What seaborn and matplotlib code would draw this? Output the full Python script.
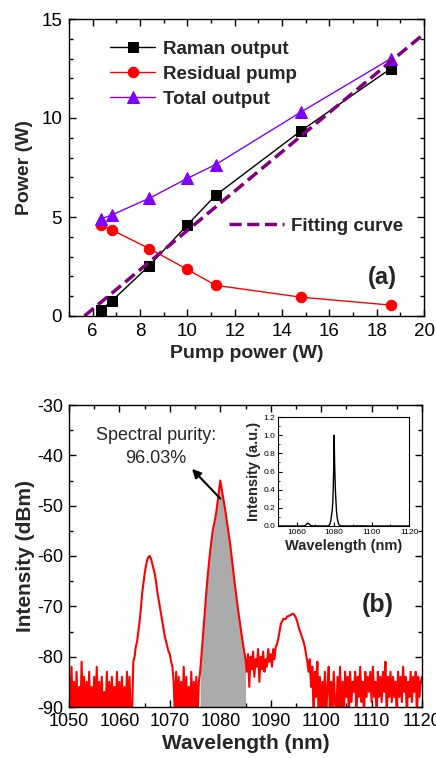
import numpy as np
import pandas as pd
import matplotlib
matplotlib.use("Agg")
import matplotlib.pyplot as plt
from matplotlib.ticker import MultipleLocator
import seaborn as sns

# ---------------- data: power scaling ----------------
pump_power = [6.35, 6.8, 8.4, 10.0, 11.2, 14.8, 18.6]
raman_output = [0.3, 0.75, 2.55, 4.6, 6.1, 9.35, 12.5]
residual_pump = [4.6, 4.35, 3.4, 2.35, 1.55, 0.95, 0.55]
total_output = [4.9, 5.1, 5.95, 6.95, 7.65, 10.3, 13.0]
fit_x = [5.65, 20.0]
fit_y = [0.0, 14.25]

# ---------------- data: output spectrum (0.25 nm steps, 1050-1120 nm) ----------------
wl_start, wl_step = 1050.0, 0.25
spectrum_dbm = [
    -84, -92, -82, -92, -85, -92, -83, -92, -86, -92, -81, -92, -84, -92, -85, -92, -83, -92, -86, -92,
    -84, -92, -82, -92, -85, -92, -84, -92, -87, -92, -83, -92, -85, -92, -84, -92, -86, -92, -83, -92,
    -85, -92, -84, -92, -86, -92, -83, -92, -84, -92, -92, -81, -80, -78, -77, -75, -73, -70.5, -67.5, -65.5,
    -63.5, -62, -60.8, -60.2, -60, -60.5, -61.5, -62.5, -63.5, -65, -67, -68.5, -70, -71.5, -73, -74.5, -76, -77, -78, -79,
    -79.5, -81, -82, -85, -92, -83, -92, -84, -92, -85, -92, -82, -92, -84, -92, -86, -92, -83, -92, -85,
    -92, -84, -92, -85, -83, -80, -76.7, -73.5, -70, -67, -64, -61.5, -59, -57, -55, -53.8, -52.5, -51, -49, -47,
    -45, -46.5, -48, -49.5, -51, -52.7, -54.5, -56.2, -58, -60.2, -62.5, -64.5, -66.5, -68.5, -70.5, -72.3, -74, -75.8, -77.5, -79,
    -80.5, -83, -79.5, -86, -80, -82.5, -79, -84, -80.5, -82, -78.5, -85, -80, -82.5, -79, -83, -80.5, -82, -78.5, -81,
    -79.5, -82, -78.5, -80.5, -78, -77.5, -76.5, -75, -73.5, -73, -72.5, -72.5, -72.5, -72, -72, -71.8, -71.7, -71.5, -71.5, -71.8,
    -72.3, -73, -74, -74.8, -75.5, -76.3, -77, -78, -79.5, -81, -83, -80.5, -86, -82, -92, -83, -88, -81, -92, -84,
    -92, -85, -90, -83, -92, -86, -82, -92, -85, -92, -83, -89, -92, -84, -92, -82, -92, -85, -92, -83,
    -88, -84, -92, -83, -89, -85, -87, -83, -92, -84, -88, -82, -89, -85, -92, -83, -88, -84, -87, -83,
    -89, -82, -88, -85, -92, -83, -88, -84, -89, -83, -87, -81, -92, -84, -88, -83, -89, -84, -88, -85,
    -92, -83, -88, -84, -89, -82, -87, -84, -92, -85, -88, -83, -89, -84, -87, -83, -92, -84, -88, -85,
    -84,
]
wavelength = wl_start + wl_step * np.arange(len(spectrum_dbm))
signal_band = (1076.0, 1085.0)
purity_text = "Spectral purity:\n96.03%"

spec = pd.DataFrame({"wl": wavelength, "dbm": spectrum_dbm})
# linear, peak-normalised view of the same trace for the inset
spec["lin"] = 10 ** ((spec["dbm"] - spec["dbm"].max()) / 10.0)

# ---------------- style ----------------
sns.set_theme(style="ticks")
plt.rcParams["font.family"] = ["Liberation Sans", "DejaVu Sans"]
plt.rcParams.update({
    "axes.unicode_minus": False,
    "axes.linewidth": 1.0,
    "axes.edgecolor": "black",
    "xtick.color": "black",
    "ytick.color": "black",
    "xtick.direction": "in",
    "ytick.direction": "in",
    "xtick.top": True,
    "ytick.right": True,
    "xtick.major.size": 5,
    "ytick.major.size": 5,
    "xtick.minor.size": 3,
    "ytick.minor.size": 3,
    "xtick.major.width": 1.0,
    "ytick.major.width": 1.0,
    "xtick.minor.width": 1.0,
    "ytick.minor.width": 1.0,
})

W, H = 436, 758
fig = plt.figure(figsize=(W / 100, H / 100), dpi=100)

def frac(left, top, right, bottom):
    return [left / W, 1 - bottom / H, (right - left) / W, (bottom - top) / H]

# ================= panel (a) =================
ax1 = fig.add_axes(frac(69, 19, 424, 316))
sns.lineplot(x=pump_power, y=raman_output, ax=ax1, color="black", lw=1.0,
             marker="s", markersize=7, markeredgecolor="black", label="Raman output")
sns.lineplot(x=pump_power, y=residual_pump, ax=ax1, color="#ff0000", lw=1.0,
             marker="o", markersize=7.5, markeredgecolor="#ff0000", label="Residual pump")
sns.lineplot(x=pump_power, y=total_output, ax=ax1, color="#8000ff", lw=1.0,
             marker="^", markersize=8, markeredgecolor="#8000ff", label="Total output")
sns.lineplot(x=fit_x, y=fit_y, ax=ax1, color="#800080", lw=2.5,
             linestyle=(0, (3.5, 1.6)), label="Fitting curve")

ax1.set_xlim(5, 20)
ax1.set_ylim(0, 15)
ax1.xaxis.set_major_locator(MultipleLocator(2))
ax1.xaxis.set_minor_locator(MultipleLocator(1))
ax1.yaxis.set_major_locator(MultipleLocator(5))
ax1.yaxis.set_minor_locator(MultipleLocator(1))
ax1.tick_params(axis="both", which="major", labelsize=13.5, pad=5)
ax1.set_xlabel("Pump power (W)", fontsize=14, fontweight="bold", labelpad=4)
ax1.set_ylabel("Power (W)", fontsize=14, fontweight="bold", labelpad=6)

handles, labels = ax1.get_legend_handles_labels()
leg1 = ax1.legend(handles[:3], labels[:3], loc="upper left", bbox_to_anchor=(0.095, 0.953),
                  frameon=False, handlelength=2.4, handletextpad=0.4, labelspacing=0.42,
                  prop={"weight": "bold", "size": 13.5}, borderaxespad=0)
ax1.add_artist(leg1)
ax1.legend([handles[3]], [labels[3]], loc="center left", bbox_to_anchor=(0.43, 0.303),
           frameon=False, handlelength=2.9, handletextpad=0.4,
           prop={"weight": "bold", "size": 13.5}, borderaxespad=0)
ax1.text(18.25, 1.95, "(a)", fontsize=17, fontweight="bold", ha="center", va="center")

# ================= panel (b) =================
ax2 = fig.add_axes(frac(69, 405, 422, 707))
band = (spec["wl"] >= signal_band[0]) & (spec["wl"] <= signal_band[1])
ax2.fill_between(spec["wl"][band], -90, spec["dbm"][band], color="#ababab", lw=0, zorder=1)
sns.lineplot(data=spec, x="wl", y="dbm", ax=ax2, color="#ff0000", lw=1.5, zorder=2)

ax2.set_xlim(1050, 1120)
ax2.set_ylim(-90, -30)
ax2.xaxis.set_major_locator(MultipleLocator(10))
ax2.xaxis.set_minor_locator(MultipleLocator(5))
ax2.yaxis.set_major_locator(MultipleLocator(10))
ax2.yaxis.set_minor_locator(MultipleLocator(5))
ax2.tick_params(axis="both", which="major", labelsize=13, pad=4)
ax2.set_xlabel("Wavelength (nm)", fontsize=15, fontweight="bold", labelpad=3)
ax2.set_ylabel("Intensity (dBm)", fontsize=15, fontweight="bold", labelpad=2)

ax2.text(1067.2, -38.4, purity_text, fontsize=13, ha="center", va="center",
         linespacing=1.45)
ax2.annotate("", xy=(1074.4, -42.7), xytext=(1080.0, -48.6),
             arrowprops=dict(arrowstyle="-|>", color="black", lw=1.5,
                             mutation_scale=13, shrinkA=0, shrinkB=0))
ax2.text(1111.3, -69.8, "(b)", fontsize=18, fontweight="bold", ha="center", va="center")

# ---------------- inset ----------------
ax3 = fig.add_axes(frac(278, 417, 409, 526))
sns.lineplot(data=spec, x="wl", y="lin", ax=ax3, color="black", lw=1.0)
ax3.set_xlim(1050, 1120)
ax3.set_ylim(0, 1.2)
ax3.set_xticks([1060, 1080, 1100, 1120])
ax3.set_yticks([0.0, 0.2, 0.4, 0.6, 0.8, 1.0, 1.2])
ax3.set_yticklabels(["0.0", "0.2", "0.4", "0.6", "0.8", "1.0", "1.2"])
ax3.tick_params(axis="both", which="major", labelsize=6, length=3, width=0.8, pad=2)
ax3.tick_params(top=False, right=False)
ax3.xaxis.set_minor_locator(MultipleLocator(10))
ax3.yaxis.set_minor_locator(MultipleLocator(0.1))
ax3.tick_params(which="minor", length=1.5, width=0.6, top=False, right=False)
for s in ax3.spines.values():
    s.set_linewidth(0.8)
ax3.set_xlabel("Wavelength (nm)", fontsize=10.5, fontweight="bold", labelpad=2)
ax3.set_ylabel("Intensity (a.u.)", fontsize=10.5, fontweight="bold", labelpad=2)

fig.savefig("out.png", dpi=100)
